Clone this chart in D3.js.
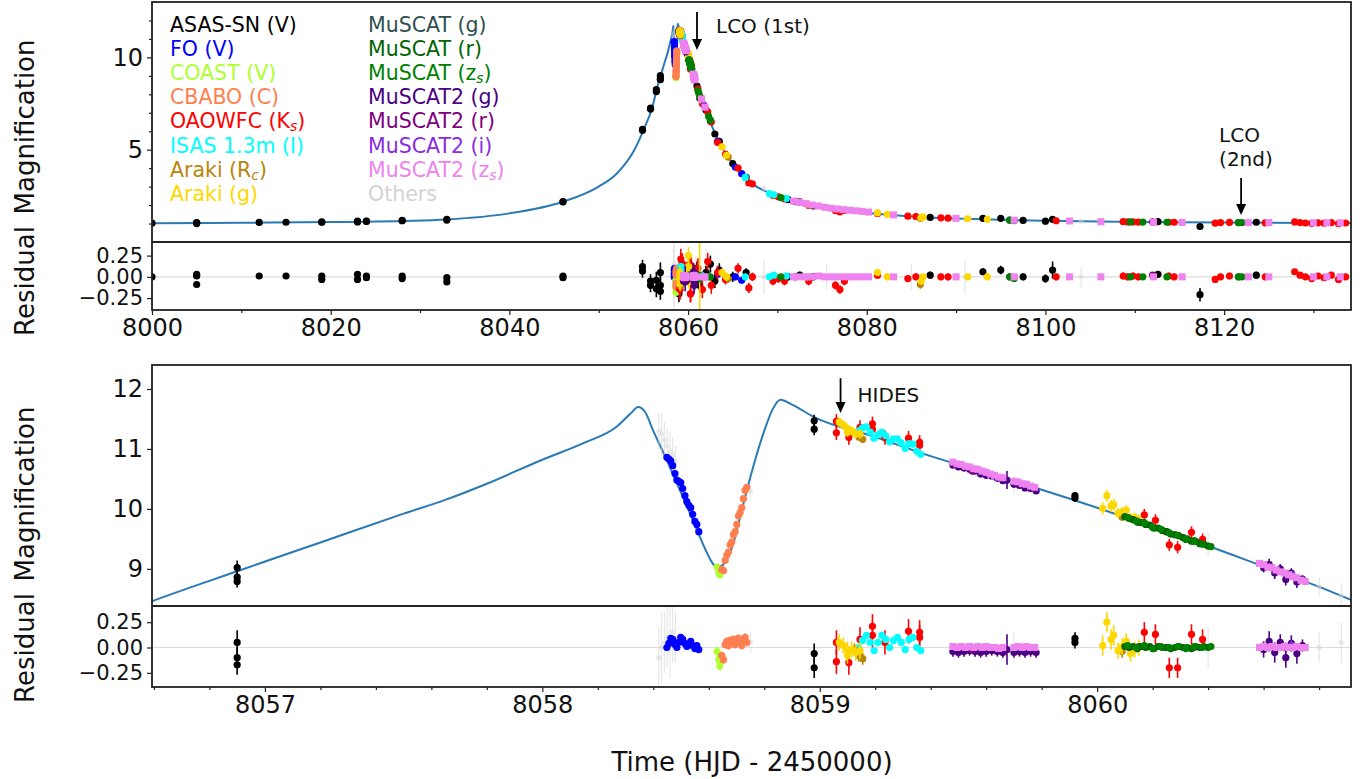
<!DOCTYPE html>
<html><head><meta charset="utf-8">
<script src="https://cdn.jsdelivr.net/npm/d3@7/dist/d3.min.js"></script>
<style>body{margin:0;background:#fff}svg text{font-family:"DejaVu Sans",sans-serif}</style>
</head><body><svg id="c" width="1369" height="779"></svg>
<script>
// ---------------- data (t = HJD-2450000, A = magnification, r = residual, e = error) -------------
const modelT = [8000,8010,8020,8028,8033,8040,8046,8050,8052,8054,8055,8056,8056.593,8056.9,8057.2,8057.5,8057.65,8057.8,8058.0,8058.15,8058.27,8058.32,8058.345,8058.37,8058.40,8058.44,8058.48,8058.52,8058.56,8058.59,8058.61,8058.625,8058.64,8058.66,8058.69,8058.72,8058.76,8058.80,8058.83,8058.858,8058.90,8058.98,8059.2,8059.4,8059.6,8059.8,8060.0,8060.2,8060.4,8060.6,8060.8,8060.95,8061.5,8062,8063,8064,8065,8066.3,8067.2,8069.4,8072.5,8075,8080,8085,8090,8095,8100,8110,8120,8134.5];
const modelA = [1.02,1.04,1.08,1.14,1.22,1.55,2.18,3.0,3.7,5.0,6.05,7.3,8.46,8.96,9.44,9.92,10.15,10.42,10.82,11.1,11.38,11.6,11.7,11.62,11.3,10.9,10.48,10.06,9.62,9.3,9.12,9.04,9.04,9.12,9.45,10.0,10.7,11.3,11.66,11.82,11.74,11.53,11.2,10.88,10.6,10.32,10.02,9.7,9.38,9.04,8.7,8.42,7.75,7.1,5.9,4.95,4.25,3.55,3.15,2.6,2.15,1.85,1.58,1.38,1.27,1.2,1.15,1.08,1.05,1.03];

const asassn = [[8000.0,1.02,0.00,0.03],[8005.0,1.05,0.03,0.03],[8005.0,1.04,0.01,0.03],[8005.0,1.00,-0.09,0.03],
[8012.0,1.06,0.01,0.03],[8015.0,1.07,0.01,0.03],[8019.0,1.09,0.01,0.03],[8019.0,1.07,-0.03,0.03],
[8023.0,1.13,0.03,0.03],[8023.0,1.09,-0.03,0.03],[8024.0,1.13,0.01,0.03],[8024.0,1.12,-0.01,0.03],
[8028.0,1.17,0.01,0.03],[8028.0,1.15,-0.02,0.03],[8033.0,1.23,-0.01,0.03],[8033.0,1.19,-0.06,0.03],
[8046.0,2.19,0.01,0.03],[8046.0,2.17,-0.01,0.03],[8054.9,6.10,0.12,0.08],[8054.9,6.05,0.07,0.08],
[8055.8,7.25,-0.05,0.08],[8055.8,7.20,-0.10,0.08],[8056.45,8.25,-0.04,0.1],[8056.45,8.15,-0.14,0.1],
[8056.9,9.02,0.05,0.12],[8056.9,8.86,-0.10,0.1],[8056.9,8.79,-0.17,0.1],
[8058.98,11.47,-0.06,0.1],[8058.98,11.33,-0.20,0.1],[8059.92,10.22,0.09,0.06],[8059.92,10.18,0.05,0.06],
[8061.0,8.45,0.10,0.08],[8061.3,7.80,-0.10,0.08],[8062.0,7.15,0.05,0.08],[8062.5,6.55,0.15,0.1],[8063.0,5.85,-0.05,0.08],
[8063.5,5.45,0.08,0.08],[8065.0,4.25,0.00,0.06],[8066.5,3.50,0.05,0.05],[8071.2,2.30,0.00,0.04],[8072.5,2.17,0.02,0.04],
[8074.0,1.95,0.00,0.04],[8087.1,1.33,0.02,0.04],[8093.0,1.28,0.06,0.04],[8095.0,1.28,0.08,0.05],[8097.5,1.17,0.00,0.04],
[8100.0,1.13,-0.02,0.05],[8100.8,1.23,0.08,0.1],[8112.6,1.10,0.03,0.04],[8117.3,0.84,-0.21,0.08],[8123.6,1.07,0.02,0.04]];

const fo = [[8058.449,10.86,0.00,0.03],[8058.456,10.83,0.04,0.03],[8058.463,10.80,0.09,0.03],[8058.470,10.72,0.08,0.03],
[8058.478,10.59,0.03,0.03],[8058.485,10.48,0.00,0.03],[8058.492,10.46,0.05,0.03],[8058.499,10.44,0.10,0.03],
[8058.506,10.34,0.08,0.03],[8058.514,10.22,0.04,0.03],[8058.521,10.12,0.01,0.03],[8058.528,10.06,0.03,0.03],
[8058.535,10.02,0.06,0.03],[8058.542,9.91,0.02,0.03],[8058.550,9.79,-0.01,0.03],[8058.557,9.74,0.02,0.03],[8058.564,9.62,-0.02,0.03],
[8063.3,5.45,0.03,0.04],[8065.3,4.05,0.00,0.04],[8066.0,3.70,-0.04,0.04]];

const coast = [[8058.630,9.03,-0.04,0.05],[8058.636,8.95,-0.12,0.05],[8058.640,8.90,-0.18,0.05]];

const cbabo = [[8058.647,8.99,-0.08,0.04],[8058.653,8.97,-0.12,0.04],[8058.659,9.14,0.03,0.04],[8058.665,9.23,0.06,0.04],
[8058.671,9.28,0.02,0.04],[8058.677,9.40,0.07,0.04],[8058.683,9.45,0.04,0.04],[8058.689,9.57,0.08,0.04],
[8058.695,9.62,0.03,0.04],[8058.701,9.74,0.06,0.04],[8058.707,9.88,0.09,0.04],[8058.713,9.94,0.05,0.04],
[8058.719,10.02,0.02,0.04],[8058.725,10.17,0.07,0.04],[8058.731,10.31,0.10,0.04],[8058.737,10.36,0.05,0.04]];

const oaowfc = [[8059.06,11.46,0.05,0.12],[8059.06,11.27,-0.14,0.12],[8059.105,11.19,-0.15,0.12],[8059.145,11.36,0.08,0.12],
[8059.19,11.42,0.21,0.12],[8059.19,11.33,0.12,0.12],[8059.235,11.19,0.05,0.12],[8059.32,11.18,0.16,0.12],
[8059.36,11.11,0.15,0.12],[8059.36,11.06,0.10,0.12],
[8060.17,9.90,0.15,0.1],[8060.21,9.81,0.13,0.1],[8060.26,9.40,-0.20,0.1],[8060.29,9.36,-0.20,0.1],[8060.34,9.61,0.13,0.1],[8060.38,9.49,0.08,0.1],
[8061.1,8.30,0.10,0.12],[8061.6,7.50,-0.15,0.1],[8062.2,7.05,0.18,0.1],
[8062.6,6.50,-0.10,0.1],[8063.3,5.40,0.05,0.08],[8064.2,4.75,-0.03,0.06],[8065.6,4.00,0.10,0.06],[8066.8,3.20,-0.13,0.06],
[8067.2,3.15,0.00,0.05],[8069.5,2.53,-0.05,0.05],[8070.1,2.45,-0.02,0.05],[8070.8,2.33,-0.05,0.05],[8073.5,1.98,-0.05,0.05],
[8076.5,1.70,-0.10,0.05],[8077.0,1.63,-0.15,0.05],[8077.5,1.71,-0.05,0.05],[8081.2,1.55,0.02,0.04],[8084.6,1.40,-0.02,0.04],
[8085.5,1.38,0.00,0.04],[8088.3,1.31,0.00,0.04],[8089.1,1.29,0.00,0.04],[8101.2,1.15,0.00,0.04],[8108.7,1.10,0.01,0.04],
[8109.2,1.09,0.00,0.04],[8109.8,1.09,0.01,0.04],[8110.4,1.08,0.00,0.04],[8113.8,1.07,0.01,0.04],[8114.4,1.07,0.00,0.04],
[8119.0,1.02,-0.03,0.04],[8119.6,1.05,0.00,0.04],[8120.6,1.06,0.01,0.04],[8124.6,1.04,0.00,0.03],[8127.9,1.09,0.06,0.03],
[8128.5,1.05,0.02,0.03],[8129.1,1.03,0.00,0.03],[8129.8,1.01,-0.02,0.03],[8130.5,1.04,0.01,0.03],[8131.2,1.02,-0.01,0.03],
[8132.0,1.05,0.02,0.03],[8132.8,1.00,-0.03,0.03],[8133.6,1.03,0.00,0.03]];

const isas = [[8059.140,11.30,0.00,0.03],[8059.154,11.35,0.07,0.03],[8059.168,11.37,0.12,0.03],[8059.182,11.28,0.05,0.03],
[8059.196,11.18,-0.03,0.03],[8059.210,11.24,0.05,0.03],[8059.224,11.28,0.12,0.03],[8059.238,11.22,0.08,0.03],
[8059.252,11.12,0.00,0.03],[8059.266,11.17,0.07,0.03],[8059.280,11.17,0.10,0.03],[8059.294,11.10,0.05,0.03],
[8059.308,11.01,-0.02,0.03],[8059.322,11.09,0.08,0.03],[8059.336,11.08,0.10,0.03],[8059.350,10.96,0.00,0.03],[8059.364,10.91,-0.03,0.03],
[8061.5,7.77,0.02,0.03],[8066.4,3.50,0.00,0.03],[8069.1,2.62,0.00,0.03],[8069.6,2.56,0.02,0.03],[8071.0,2.36,0.01,0.03]];

const arakiR = [[8059.125,11.27,-0.02,0.06],[8059.140,11.20,-0.08,0.06],[8059.155,11.16,-0.11,0.06],[8060.09,9.86,-0.04,0.06],
[8064.5,4.60,-0.02,0.05],[8086.0,1.28,-0.09,0.05]];

const arakiG = [[8059.07,11.45,0.05,0.08],[8059.085,11.40,0.02,0.08],[8059.10,11.34,-0.02,0.08],[8059.115,11.30,-0.02,0.08],
[8059.13,11.25,-0.05,0.08],[8059.145,11.25,-0.03,0.08],[8059.10,11.28,-0.08,0.08],
[8060.02,10.01,0.02,0.1],[8060.035,10.22,0.25,0.1],[8060.05,10.05,0.08,0.1],[8060.06,10.07,0.12,0.1],[8060.075,9.93,-0.03,0.08],
[8060.09,9.95,0.01,0.08],[8060.105,9.98,0.06,0.08],[8060.12,9.85,-0.06,0.08],[8060.135,9.86,-0.02,0.08],[8060.15,9.82,0.00,0.08],
[8061.3,7.90,0.00,0.4],[8063.8,5.15,0.05,0.05],[8064.3,4.70,0.00,0.05],[8073.3,2.05,0.00,0.04],[8081.2,1.58,0.05,0.04],
[8082.3,1.50,0.00,0.04],[8086.1,1.32,-0.05,0.04],[8086.3,1.36,0.00,0.04],[8091.3,1.26,0.00,0.04],[8093.5,1.23,0.00,0.04]];

const muscatG = [[8060.15,9.78,0.01,0.03],[8060.25,9.62,0.00,0.03],[8060.35,9.46,0.00,0.03],[8096.0,1.19,0.00,0.03],[8121.6,1.05,0.00,0.03]];

const muscatR = [[8060.100,9.87,0.01,0.02],[8060.115,9.84,0.00,0.02],[8060.130,9.82,0.01,0.02],[8060.145,9.78,-0.01,0.02],
[8060.160,9.77,0.01,0.02],[8060.175,9.74,0.00,0.02],[8060.190,9.73,0.01,0.02],[8060.205,9.68,-0.01,0.02],
[8060.220,9.68,0.01,0.02],[8060.235,9.64,0.00,0.02],[8060.250,9.62,0.00,0.02],[8060.265,9.58,-0.01,0.02],
[8060.280,9.57,0.00,0.02],[8060.295,9.55,0.01,0.02],[8060.310,9.52,0.00,0.02],[8060.325,9.50,0.00,0.02],
[8060.340,9.46,-0.01,0.02],[8060.355,9.46,0.01,0.02],[8060.370,9.42,0.00,0.02],[8060.385,9.41,0.01,0.02],[8060.400,9.38,0.00,0.02]];

const muscatZ = [[8060.11,9.86,0.02,0.02],[8060.14,9.80,0.00,0.02],[8060.17,9.77,0.02,0.02],[8060.20,9.69,-0.01,0.02],
[8060.23,9.66,0.01,0.02],[8060.26,9.60,0.00,0.02],[8060.29,9.56,0.01,0.02],[8060.32,9.49,-0.01,0.02],
[8060.35,9.47,0.01,0.02],[8060.38,9.41,0.00,0.02],[8060.41,9.37,0.01,0.02],
[8061.1,8.20,0.00,0.02],[8061.2,8.07,0.02,0.02],[8061.3,7.90,-0.02,0.02],[8061.4,7.82,0.00,0.02],
[8061.5,7.76,0.01,0.02],[8062.3,6.80,0.00,0.02],[8062.5,6.60,0.00,0.02],[8070.4,2.40,0.00,0.02],[8096.0,1.18,0.00,0.02],
[8096.5,1.16,-0.02,0.02],[8109.5,1.09,0.00,0.02],[8110.9,1.08,0.00,0.02],[8113.6,1.07,0.00,0.02],[8121.6,1.05,0.00,0.02],[8122.0,1.05,0.00,0.02]];

const muscat2G = [[8059.48,10.73,-0.04,0.05],[8059.50,10.70,-0.05,0.05],[8059.52,10.68,-0.04,0.05],[8059.54,10.66,-0.03,0.05],
[8059.56,10.63,-0.04,0.05],[8059.58,10.58,-0.05,0.05],[8059.60,10.56,-0.04,0.05],[8059.62,10.55,-0.03,0.05],
[8059.64,10.51,-0.04,0.05],[8059.66,10.47,-0.05,0.05],[8059.675,10.48,-0.02,0.15],
[8059.70,10.41,-0.05,0.05],[8059.72,10.39,-0.04,0.05],[8059.74,10.35,-0.05,0.05],[8059.76,10.34,-0.04,0.05],[8059.78,10.30,-0.05,0.05],
[8060.60,9.02,-0.02,0.08],[8060.62,9.07,0.06,0.1],[8060.64,8.93,-0.05,0.1],[8060.66,9.00,0.05,0.08],
[8060.68,8.82,-0.10,0.1],[8060.70,8.93,0.04,0.08],[8060.72,8.78,-0.06,0.1],[8060.74,8.83,0.02,0.06]];

const muscat2R = [[8059.55,10.63,-0.02,0.03],[8060.68,8.92,0.00,0.05],[8072.0,2.20,0.00,0.03],[8112.0,1.09,0.02,0.03]];
const muscat2I = [[8059.60,10.61,0.00,0.03],[8060.70,8.91,0.02,0.05],[8061.8,7.40,0.00,0.03]];

const muscat2Z = [[8059.480,10.78,0.01,0.02],[8059.495,10.75,0.00,0.02],[8059.510,10.74,0.01,0.02],[8059.525,10.71,0.00,0.02],
[8059.540,10.70,0.01,0.02],[8059.555,10.67,0.00,0.02],[8059.570,10.66,0.01,0.02],[8059.585,10.63,0.00,0.02],
[8059.600,10.61,0.01,0.02],[8059.615,10.58,0.00,0.02],[8059.630,10.56,0.00,0.02],[8059.645,10.53,-0.01,0.02],
[8059.660,10.52,0.00,0.02],[8059.700,10.46,0.00,0.02],[8059.715,10.45,0.01,0.02],[8059.730,10.42,0.00,0.02],
[8059.745,10.41,0.01,0.02],[8059.760,10.38,0.00,0.02],[8059.775,10.36,0.00,0.02],
[8060.585,9.09,0.00,0.02],[8060.600,9.07,0.01,0.02],[8060.615,9.03,0.00,0.02],[8060.630,9.02,0.01,0.02],
[8060.645,8.98,0.00,0.02],[8060.660,8.95,0.00,0.02],[8060.675,8.93,0.01,0.02],[8060.690,8.90,0.00,0.02],
[8060.705,8.87,0.00,0.02],[8060.720,8.85,0.01,0.02],[8060.735,8.81,0.00,0.02],[8060.750,8.79,0.00,0.02],
[8061.5,7.75,0.00,0.02],[8061.9,7.30,0.00,0.02],[8071.8,2.21,0.00,0.02],[8072.5,2.15,0.00,0.02],[8073.2,2.08,0.00,0.02],
[8073.9,2.00,0.00,0.02],[8074.6,1.95,0.01,0.02],[8075.3,1.88,0.00,0.02],[8076.0,1.83,0.00,0.02],[8076.7,1.79,0.00,0.02],
[8077.4,1.75,0.00,0.02],[8078.1,1.72,0.00,0.02],[8078.8,1.69,0.00,0.02],[8079.5,1.66,0.00,0.02],[8080.2,1.62,0.00,0.02],
[8083.0,1.47,0.00,0.02],[8090.0,1.28,0.00,0.02],[8096.5,1.18,0.00,0.02],[8102.7,1.14,0.00,0.02],[8106.2,1.10,0.00,0.02],
[8112.1,1.07,0.00,0.02],[8115.3,1.06,0.00,0.02],[8122.7,1.05,0.00,0.02],[8125.0,1.05,0.00,0.02],[8130.0,1.04,0.00,0.02],
[8131.5,1.04,0.00,0.02],[8133.0,1.04,0.00,0.02]];

const others = [[8058.42,11.30,-0.10,0.3],[8058.43,11.25,0.00,0.35],[8058.44,11.15,0.05,0.3],[8058.45,11.05,0.10,0.3],
[8058.46,10.95,0.05,0.35],[8058.47,10.90,0.15,0.3],[8058.48,10.80,0.10,0.25],[8058.75,10.30,0.05,0.1],
[8059.70,10.40,0.00,0.15],[8060.40,9.40,0.00,0.2],[8060.80,8.70,0.00,0.15],[8060.88,8.55,0.05,0.2],
[8062.0,7.00,0.10,0.25],[8068.5,2.90,0.00,0.2],[8075.5,1.85,0.00,0.15],[8085.0,1.38,0.00,0.15],[8091.0,1.26,0.00,0.2],[8104.0,1.12,0.00,0.12]];

// legend labels: [text, subscript, tail]
const labels = [["ASAS-SN (V)"],["FO (V)"],["COAST (V)"],["CBABO (C)"],["OAOWFC (K","s",")"],["ISAS 1.3m (I)"],["Araki (R","c",")"],["Araki (g)"],
 ["MuSCAT (g)"],["MuSCAT (r)"],["MuSCAT (z","s",")"],["MuSCAT2 (g)"],["MuSCAT2 (r)"],["MuSCAT2 (i)"],["MuSCAT2 (z","s",")"],["Others"]];
const seriesData = [asassn,fo,coast,cbabo,oaowfc,isas,arakiR,arakiG,muscatG,muscatR,muscatZ,muscat2G,muscat2R,muscat2I,muscat2Z,others];
const colors = ["#000000","#0000ff","#adff2f","#ff7f50","#ff0000","#00ffff","#b8860b","#ffd700","#2f4f4f","#006400","#008000","#4b0082","#800080","#8a2be2","#ee82ee","#d3d3d3"];
const shapes = ["o","o","o","o","o","o","o","o","o","o","o","o","o","o","s","o"];

const topXTicks = [8000,8020,8040,8060,8080,8100,8120];
const topXMinor = [8010,8030,8050,8070,8090,8110,8130];
const botXTicks = [8057,8058,8059,8060];
const topYTicks = [5,10];
const botYTicks = [9,10,11,12];
const resTicks = [-0.25,0,0.25];

// ---------------- layout -------------
const svg = d3.select('#c');
const L = 152, R = 1351;
const P = [
 {x: d3.scaleLinear().domain([8000,8134.2]).range([L,R]),
  ym: d3.scaleLinear().domain([0,13]).range([242,2]),
  yr: d3.scaleLinear().domain([-0.39,0.41]).range([310,242]), id:'t'},
 {x: d3.scaleLinear().domain([8056.593,8060.915]).range([L,R]),
  ym: d3.scaleLinear().domain([8.38,12.4]).range([606,365]),
  yr: d3.scaleLinear().domain([-0.39,0.41]).range([687,606]), id:'b'}
];
const defs = svg.append('defs');
P.forEach(p=>{
  const [m0,m1]=p.ym.range(), [r0,r1]=p.yr.range();
  defs.append('clipPath').attr('id','cm'+p.id).append('rect').attr('x',L).attr('y',m1).attr('width',R-L).attr('height',m0-m1);
  defs.append('clipPath').attr('id','cr'+p.id).append('rect').attr('x',L).attr('y',r1).attr('width',R-L).attr('height',r0-r1);
});
const order = [15,0,1,2,3,4,5,6,7,8,9,10,11,12,13,14];

P.forEach(p=>{
  const gm = svg.append('g').attr('clip-path',`url(#cm${p.id})`);
  const gr = svg.append('g').attr('clip-path',`url(#cr${p.id})`);
  gr.append('line').attr('x1',L).attr('x2',R).attr('y1',p.yr(0)).attr('y2',p.yr(0)).attr('stroke','#dddddd').attr('stroke-width',1.2);
  const line = d3.line().x((d,i)=>p.x(modelT[i])).y((d,i)=>p.ym(modelA[i])).curve(d3.curveMonotoneX);
  gm.append('path').datum(modelA).attr('d',line).attr('fill','none').attr('stroke','#2a7ab5').attr('stroke-width',2);
  const [d0,d1] = p.x.domain();
  order.forEach(k=>{
    const data = seriesData[k].filter(d=>d[0]>=d0-0.5 && d[0]<=d1+0.5);
    const c = colors[k], gray = k===15;
    const sw = gray?1.2:1.6, op = gray?0.55:1;
    [[gm,p.ym,1],[gr,p.yr,2]].forEach(([g,ys,idx])=>{
      const gg = g.append('g').attr('opacity',op);
      gg.selectAll('line').data(data).join('line')
        .attr('x1',d=>p.x(d[0])).attr('x2',d=>p.x(d[0]))
        .attr('y1',d=>ys(d[idx]-d[3])).attr('y2',d=>ys(d[idx]+d[3]))
        .attr('stroke',c).attr('stroke-width',sw);
      if(shapes[k]==='s'){
        gg.selectAll('rect').data(data).join('rect')
          .attr('x',d=>p.x(d[0])-3.5).attr('y',d=>ys(d[idx])-3.5).attr('width',7).attr('height',7).attr('fill',c);
      } else {
        gg.selectAll('circle').data(data).join('circle')
          .attr('cx',d=>p.x(d[0])).attr('cy',d=>ys(d[idx])).attr('r',gray?2.5:3.6).attr('fill',c);
      }
    });
  });
  [p.ym,p.yr].forEach(ys=>{
    const [a,b]=ys.range();
    svg.append('rect').attr('x',L).attr('y',b).attr('width',R-L).attr('height',a-b)
      .attr('fill','none').attr('stroke','#222').attr('stroke-width',1.8);
  });
});

function styleAxis(g,fs){
  g.select('.domain').remove();
  g.selectAll('.tick line').attr('stroke','#222').attr('stroke-width',1.2);
  g.selectAll('.tick text').attr('font-size',fs).attr('fill','#111').attr('font-family','DejaVu Sans');
}
const FS = 24, FSR = 21;
const fmtRes = d3.format('.2f'), fmtInt = d3.format('d');
const pt = P[0], pb = P[1];
styleAxis(svg.append('g').attr('transform',`translate(0,${pt.yr.range()[0]})`).call(d3.axisBottom(pt.x).tickValues(topXTicks).tickFormat(fmtInt).tickSize(5).tickPadding(4)),FS);
styleAxis(svg.append('g').attr('transform',`translate(0,${pt.yr.range()[0]})`).call(d3.axisBottom(pt.x).tickValues(topXMinor).tickFormat('').tickSize(3)),FS);
styleAxis(svg.append('g').attr('transform',`translate(${L},0)`).call(d3.axisLeft(pt.ym).tickValues(topYTicks).tickFormat(fmtInt).tickSize(5).tickPadding(4)),FS);
styleAxis(svg.append('g').attr('transform',`translate(${L},0)`).call(d3.axisLeft(pt.ym).tickValues(d3.range(1,13).filter(v=>v%5)).tickFormat('').tickSize(3)),FS);
styleAxis(svg.append('g').attr('transform',`translate(${L},0)`).call(d3.axisLeft(pt.yr).tickValues(resTicks).tickFormat(fmtRes).tickSize(5).tickPadding(4)),FSR);
styleAxis(svg.append('g').attr('transform',`translate(0,${pb.yr.range()[0]})`).call(d3.axisBottom(pb.x).tickValues(botXTicks).tickFormat(fmtInt).tickSize(5).tickPadding(4)),FS);
styleAxis(svg.append('g').attr('transform',`translate(0,${pb.yr.range()[0]})`).call(d3.axisBottom(pb.x).tickValues(d3.range(8056.6,8060.9,0.2).filter(v=>Math.abs(v-Math.round(v))>0.05)).tickFormat('').tickSize(3)),FS);
styleAxis(svg.append('g').attr('transform',`translate(${L},0)`).call(d3.axisLeft(pb.ym).tickValues(botYTicks).tickFormat(fmtInt).tickSize(5).tickPadding(4)),FS);
styleAxis(svg.append('g').attr('transform',`translate(${L},0)`).call(d3.axisLeft(pb.yr).tickValues(resTicks).tickFormat(fmtRes).tickSize(5).tickPadding(4)),FSR);

function vlabel(txt,cy){
  svg.append('text').attr('transform',`translate(34,${cy}) rotate(-90)`).attr('text-anchor','middle')
    .attr('font-size',26).attr('fill','#111').text(txt);
}
vlabel('Magnification',127); vlabel('Residual',281);
vlabel('Magnification',494); vlabel('Residual',648);
svg.append('text').attr('x',752).attr('y',771).attr('text-anchor','middle').attr('font-size',26).attr('fill','#111').text('Time (HJD - 2450000)');

labels.forEach((lab,i)=>{
  const col = i<8?0:1, row = i%8;
  const t = svg.append('text').attr('x',col?368:170).attr('y',32+row*24.1).attr('font-size',20.5).attr('fill',colors[i]);
  t.append('tspan').text(lab[0]);
  if(lab.length>1){
    t.append('tspan').attr('font-size',14).attr('font-style','italic').attr('dy',3).text(lab[1]);
    t.append('tspan').attr('dy',-3).text(lab[2]);
  }
});

function arrow(x,y0,y1){
  svg.append('line').attr('x1',x).attr('x2',x).attr('y1',y0).attr('y2',y1-9).attr('stroke','#000').attr('stroke-width',1.8);
  svg.append('path').attr('d',`M${x-5},${y1-11}L${x+5},${y1-11}L${x},${y1}Z`).attr('fill','#000');
}
const a1 = {t:8061.0, a0:12.46, a1:10.4};
arrow(pt.x(a1.t), pt.ym(a1.a0), pt.ym(a1.a1));
svg.append('text').attr('x',pt.x(a1.t)+19).attr('y',33).attr('font-size',20).attr('fill','#111').text('LCO (1st)');
const a2 = {t:8121.9, a0:3.47, a1:1.46};
arrow(pt.x(a2.t), pt.ym(a2.a0), pt.ym(a2.a1));
svg.append('text').attr('x',pt.x(a2.t)-22).attr('y',142).attr('font-size',20).attr('fill','#111').text('LCO');
svg.append('text').attr('x',pt.x(a2.t)-22).attr('y',166).attr('font-size',20).attr('fill','#111').text('(2nd)');
const a3 = {t:8059.075, a0:12.18, a1:11.6};
arrow(pb.x(a3.t), pb.ym(a3.a0), pb.ym(a3.a1));
svg.append('text').attr('x',pb.x(a3.t)+17).attr('y',402).attr('font-size',20).attr('fill','#111').text('HIDES');
</script></body></html>
